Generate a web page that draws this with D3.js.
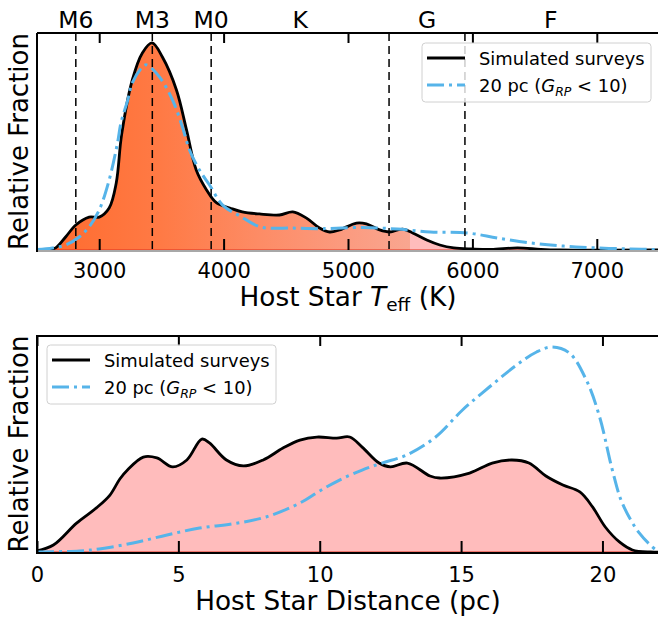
<!DOCTYPE html>
<html><head><meta charset="utf-8">
<script src="https://cdn.jsdelivr.net/npm/d3@7"></script>
<style>
body{margin:0;background:#fff}
svg{display:block;font-family:"DejaVu Sans",sans-serif}
</style>
</head><body><svg id="c" width="658" height="618"></svg>
<script>
// ---------- data ----------
const simTeffK    = [2500,2600,2650,2730,2812,2919,3000,3080,3137,3180,3266,3347,3425,3508,3621,3702,3780,3863,3944,4050,4150,4288,4449,4556,4664,4771,4852,4932,5068,5148,5254,5335,5440,5520,5633,5738,5850,6000,6150,6363,6550,6700,7500];
const simTeffFrac = [0,0.002,0.01,0.063,0.121,0.159,0.159,0.203,0.324,0.556,0.821,0.952,1.0,0.932,0.773,0.580,0.386,0.290,0.227,0.203,0.184,0.174,0.169,0.184,0.155,0.106,0.087,0.097,0.130,0.126,0.097,0.087,0.101,0.082,0.048,0.024,0.010,0.005,0.003,0.010,0.003,0,0];
const pcTeffK     = [2500,2625,2730,2839,2919,3000,3080,3147,3175,3230,3266,3347,3380,3484,3589,3669,3726,3806,3887,3992,4129,4300,4556,4774,4855,5121,5395,5661,5960,6202,6468,6734,7000,7270,7500];
const pcTeffFrac  = [0.002,0.01,0.024,0.063,0.111,0.193,0.338,0.517,0.614,0.725,0.807,0.884,0.894,0.836,0.725,0.594,0.483,0.386,0.314,0.217,0.165,0.111,0.106,0.103,0.104,0.109,0.101,0.087,0.082,0.058,0.034,0.019,0.01,0.005,0.002];

const simDistPc   = [0,0.58,1.4,2.1,2.58,2.93,3.2,3.76,4.24,4.8,5.3,5.83,6.1,6.7,7.3,8.0,8.7,9.3,9.9,10.6,11.06,11.5,12.1,12.5,13.1,13.9,14.24,15.3,16.1,16.8,17.4,18.0,18.6,19.2,19.65,20.1,20.6,21.06,21.7,22];
const simDistFrac = [0.005,0.034,0.141,0.215,0.278,0.356,0.4,0.463,0.459,0.415,0.449,0.551,0.532,0.449,0.420,0.449,0.507,0.546,0.561,0.556,0.561,0.512,0.434,0.415,0.434,0.371,0.361,0.385,0.434,0.449,0.434,0.371,0.327,0.293,0.220,0.122,0.049,0.010,0,0];
const pcDistPc    = [0,1.5,2.2,3.4,4.6,5.75,6.9,8.1,9.3,10.0,10.7,11.5,12.2,13.07,14.1,15.05,16.0,16.96,17.67,18.2,18.83,19.43,19.9,20.35,20.7,21.3,21.9,22];
const pcDistFrac  = [0,0.005,0.015,0.044,0.083,0.117,0.137,0.171,0.239,0.298,0.351,0.4,0.434,0.473,0.561,0.693,0.805,0.912,0.976,1.0,0.971,0.839,0.659,0.4,0.239,0.093,0.01,0.005];

const spectralLabels   = ["M6","M3","M0","K","G","F"];
const spectralLabelK   = [2812,3427,3900,4615,5635,6630];
const spectralLinesK   = [2812,3427,3900,5330,5940];
const teffTicks = [3000,4000,5000,6000,7000];
const distTicks = [0,5,10,15,20];
const seriesNames = ["Simulated surveys","20 pc"];

// ---------- layout ----------
const svg = d3.select("#c");
const L = 37, R = 659;
const top1 = 33, bot1 = 250, top2 = 336, bot2 = 552;
const blue = "#56B4E9";

const x1 = d3.scaleLinear().domain([2500,7500]).range([L,R]);
const y1 = d3.scaleLinear().domain([0,1.048]).range([bot1,top1]).clamp(true);
const x2 = d3.scaleLinear().domain([0,22]).range([L,R]);
const y2 = d3.scaleLinear().domain([0,1.054]).range([bot2,top2]).clamp(true);
const curve = d3.curveCatmullRom.alpha(0.5);

const zip = (a,b)=>a.map((v,i)=>[v,b[i]]);
const simT = zip(simTeffK, simTeffFrac), pcT = zip(pcTeffK, pcTeffFrac);
const simD = zip(simDistPc, simDistFrac), pcD = zip(pcDistPc, pcDistFrac);

// gradient for top fill
const defs = svg.append("defs");
const grad = defs.append("linearGradient").attr("id","tg")
  .attr("gradientUnits","userSpaceOnUse")
  .attr("x1",x1(2500)).attr("x2",x1(7500)).attr("y1",0).attr("y2",0);
const off = t => (t-2500)/5000;
[[2500,"#ff6a2c"],[3500,"#ff7a45"],[4300,"#fd8c66"],[5000,"#fb9b80"],[5500,"#f9a690"],[5500,"#ffbcbc"],[7500,"#ffbcbc"]]
  .forEach(([t,c])=>grad.append("stop").attr("offset",off(t)).attr("stop-color",c));

// ---------- top panel ----------
const g1 = svg.append("g");
const area1 = d3.area().x(d=>x1(d[0])).y0(y1(0)).y1(d=>y1(d[1])).curve(curve);
const line1 = d3.line().x(d=>x1(d[0])).y(d=>y1(d[1])).curve(curve);
const simTnz = simT.filter(d=>d[0]>=2600 && d[0]<=6700);
g1.append("path").attr("d",area1(simTnz)).attr("fill","url(#tg)")
  .attr("stroke","#e0301e").attr("stroke-width",1.2);
g1.append("path").attr("d",line1(simT)).attr("fill","none").attr("stroke","#000").attr("stroke-width",2.8);
g1.append("path").attr("d",line1(pcT)).attr("fill","none").attr("stroke",blue).attr("stroke-width",3)
  .attr("stroke-dasharray","17,5,3,5");
g1.selectAll("line.sp").data(spectralLinesK).join("line")
  .attr("x1",d=>x1(d)).attr("x2",d=>x1(d)).attr("y1",top1).attr("y2",bot1)
  .attr("stroke","#000").attr("stroke-width",1.5).attr("stroke-dasharray","8,5");
// spines
g1.append("line").attr("x1",L).attr("x2",R).attr("y1",bot1+1).attr("y2",bot1+1).attr("stroke","#a8a8a8").attr("stroke-width",2);
g1.append("line").attr("x1",L).attr("x2",R).attr("y1",top1).attr("y2",top1).attr("stroke","#000").attr("stroke-width",2);
g1.append("line").attr("x1",L).attr("x2",L).attr("y1",top1).attr("y2",bot1+2).attr("stroke","#000").attr("stroke-width",2);
// ticks
g1.append("g").attr("transform",`translate(0,${bot1})`)
  .call(d3.axisBottom(x1).tickValues(teffTicks).tickSize(-11).tickPadding(13).tickFormat(d3.format("d")));
g1.append("g").attr("transform",`translate(0,${top1})`)
  .call(d3.axisTop(x1).tickValues(teffTicks).tickSize(-10).tickFormat(""));
// spectral labels
g1.selectAll("text.spl").data(spectralLabels).join("text")
  .attr("x",(d,i)=>x1(spectralLabelK[i])).attr("y",28).attr("text-anchor","middle")
  .attr("font-size",23.5).attr("fill","#000").text(d=>d);
// axis labels
const xl1 = g1.append("text").attr("x",(L+R)/2).attr("y",306).attr("text-anchor","middle").attr("font-size",26.3);
xl1.append("tspan").text("Host Star ");
xl1.append("tspan").attr("font-style","italic").text("T");
xl1.append("tspan").attr("font-size",18.5).attr("dy",5).text("eff");
xl1.append("tspan").attr("dy",-5).text(" (K)");
g1.append("text").attr("transform",`translate(28,${(top1+bot1)/2}) rotate(-90)`).attr("text-anchor","middle")
  .attr("font-size",26).text("Relative Fraction");

// ---------- bottom panel ----------
const g2 = svg.append("g");
const area2 = d3.area().x(d=>x2(d[0])).y0(y2(0)).y1(d=>y2(d[1])).curve(curve);
const line2 = d3.line().x(d=>x2(d[0])).y(d=>y2(d[1])).curve(curve);
g2.append("path").attr("d",area2(simD)).attr("fill","#ffbcbc").attr("stroke","#e0301e").attr("stroke-width",1.2);
g2.append("path").attr("d",line2(simD)).attr("fill","none").attr("stroke","#000").attr("stroke-width",2.8);
g2.append("path").attr("d",line2(pcD)).attr("fill","none").attr("stroke",blue).attr("stroke-width",3)
  .attr("stroke-dasharray","17,5,3,5");
g2.append("line").attr("x1",L).attr("x2",R).attr("y1",bot2+1).attr("y2",bot2+1).attr("stroke","#000").attr("stroke-width",2);
g2.append("line").attr("x1",L).attr("x2",R).attr("y1",top2).attr("y2",top2).attr("stroke","#000").attr("stroke-width",2);
g2.append("line").attr("x1",L).attr("x2",L).attr("y1",top2-1).attr("y2",bot2+2).attr("stroke","#000").attr("stroke-width",2);
g2.append("g").attr("transform",`translate(0,${bot2})`)
  .call(d3.axisBottom(x2).tickValues(distTicks).tickSize(-11).tickPadding(15).tickFormat(d3.format("d")));
g2.append("g").attr("transform",`translate(0,${top2})`)
  .call(d3.axisTop(x2).tickValues(distTicks).tickSize(-10).tickFormat(""));
g2.append("text").attr("x",(L+R)/2).attr("y",610).attr("text-anchor","middle").attr("font-size",26.3)
  .text("Host Star Distance (pc)");
g2.append("text").attr("transform",`translate(28,${(top2+bot2)/2}) rotate(-90)`).attr("text-anchor","middle")
  .attr("font-size",26).text("Relative Fraction");

// axis styling
svg.selectAll(".domain").remove();
svg.selectAll(".tick line").attr("stroke","#000").attr("stroke-width",2);
svg.selectAll(".tick text").attr("font-size",21).attr("font-family","DejaVu Sans").attr("fill","#000");

// ---------- legends ----------
function legend(x, y, w, h) {
  const g = svg.append("g");
  g.append("rect").attr("x",x).attr("y",y).attr("width",w).attr("height",h).attr("rx",3.5)
    .attr("fill","#fff").attr("fill-opacity",0.8).attr("stroke","#d0d0d0").attr("stroke-width",1);
  const lx = x + 5, rows = [y+15, y+42];
  g.append("line").attr("x1",lx).attr("x2",lx+38).attr("y1",rows[0]).attr("y2",rows[0])
    .attr("stroke","#000").attr("stroke-width",3);
  g.append("line").attr("x1",lx).attr("x2",lx+38).attr("y1",rows[1]).attr("y2",rows[1])
    .attr("stroke",blue).attr("stroke-width",3).attr("stroke-dasharray","17,5,3,5");
  g.append("text").attr("x",lx+52).attr("y",rows[0]+6.5).attr("font-size",17.9).text(seriesNames[0]);
  const t = g.append("text").attr("x",lx+52).attr("y",rows[1]+6.5).attr("font-size",17.9);
  t.append("tspan").text(seriesNames[1] + " (");
  t.append("tspan").attr("font-style","italic").text("G");
  t.append("tspan").attr("font-style","italic").attr("font-size",12.5).attr("dy",4).text("RP");
  t.append("tspan").attr("dy",-4).text(" < 10)");
}
legend(422, 43, 229, 59);
legend(47, 345, 229, 59);
</script>
</body></html>
